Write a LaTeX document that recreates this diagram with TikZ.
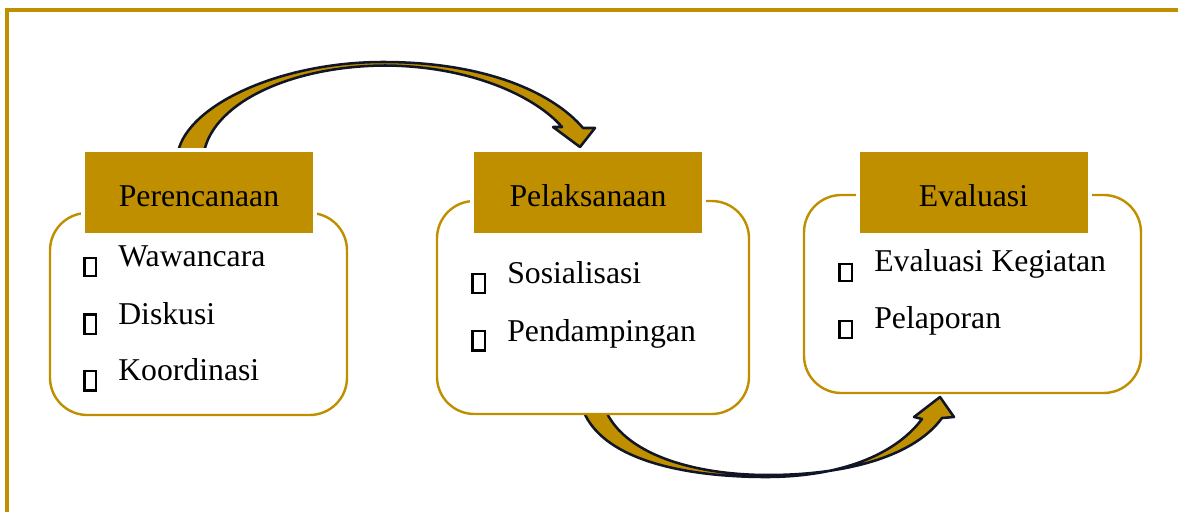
\documentclass[tikz,border=0pt]{standalone}
\usepackage{fontspec}
\setmainfont{Liberation Serif}
\definecolor{gold}{RGB}{192,143,0}
\definecolor{navy}{RGB}{16,22,38}
\begin{document}
\begin{tikzpicture}[x=0.75pt,y=-0.75pt,
  frame/.style={draw=gold,line width=2.4pt},
  itembox/.style={draw=gold,fill=white,line width=1.8pt,rounded corners=28pt,inner sep=0pt},
  titlebox/.style={fill=gold,draw=white,line width=3pt,inner sep=0pt,minimum width=174pt,text height=42pt,text depth=21.75pt,anchor=base,font=\fontsize{23.8pt}{28pt}\selectfont},
  item/.style={anchor=base west,inner sep=0pt,font=\fontsize{23.8pt}{28pt}\selectfont},
  bulletbox/.style={draw=black,line width=1.7pt},
  bigarrow/.style={fill=gold,draw=navy,line width=1.9pt,line join=round}]
\useasboundingbox (0,0) rectangle (1178,511);
\draw[frame] (7,540) -- (7,10) -- (1200,10);

% curved block arrows
\draw[bigarrow] (178,152) .. controls (188,105) and (280,62) .. (383,62)
  .. controls (490,62) and (555,95) .. (583,128) -- (595,128) -- (580,147) -- (553,127) -- (562,127)
  .. controls (535,96) and (470,66) .. (385,65.5) .. controls (292,66) and (214,102) .. (204,152) -- cycle;
\draw[bigarrow] (580,400) .. controls (592,458) and (680,477) .. (766,477)
  .. controls (840,477) and (895,455) .. (922,419) -- (914,417) -- (940,397) -- (954,417) -- (942,418)
  .. controls (915,455) and (850,475) .. (768,475) .. controls (690,475) and (615,452) .. (602,400) -- cycle;

% boxes
\node[itembox,minimum width=222.75pt,minimum height=151.5pt] (plan) at (198.5,314) {};
\node[itembox,minimum width=234pt,minimum height=159.75pt] (exec) at (593,307.5) {};
\node[itembox,minimum width=252.75pt,minimum height=148.5pt] (eval) at (972.5,294) {};

% titles
\node[titlebox] (planT) at (199,206) {Perencanaan};
\node[titlebox] (execT) at (588,206) {Pelaksanaan};
\node[titlebox] (evalT) at (973.5,206) {Evaluasi};

% items
\node[item] (i11) at (118,266.7) {Wawancara};
\node[item] (i12) at (118,324) {Diskusi};
\node[item] (i13) at (118,380.7) {Koordinasi};
\node[item] (i21) at (507,283.3) {Sosialisasi};
\node[item] (i22) at (507,341.7) {Pendampingan};
\node[item] (i31) at (874,271) {Evaluasi Kegiatan};
\node[item] (i32) at (874,328.3) {Pelaporan};

% bullets
\draw[bulletbox] (84.5,258) rectangle (96,276);
\draw[bulletbox] (84.5,314.5) rectangle (96,334);
\draw[bulletbox] (84.5,371) rectangle (96,390.5);
\draw[bulletbox] (472.5,274) rectangle (485,293);
\draw[bulletbox] (472.5,331) rectangle (485,350.5);
\draw[bulletbox] (839.5,264) rectangle (852,281);
\draw[bulletbox] (839.5,321) rectangle (852,338);
\end{tikzpicture}
\end{document}
